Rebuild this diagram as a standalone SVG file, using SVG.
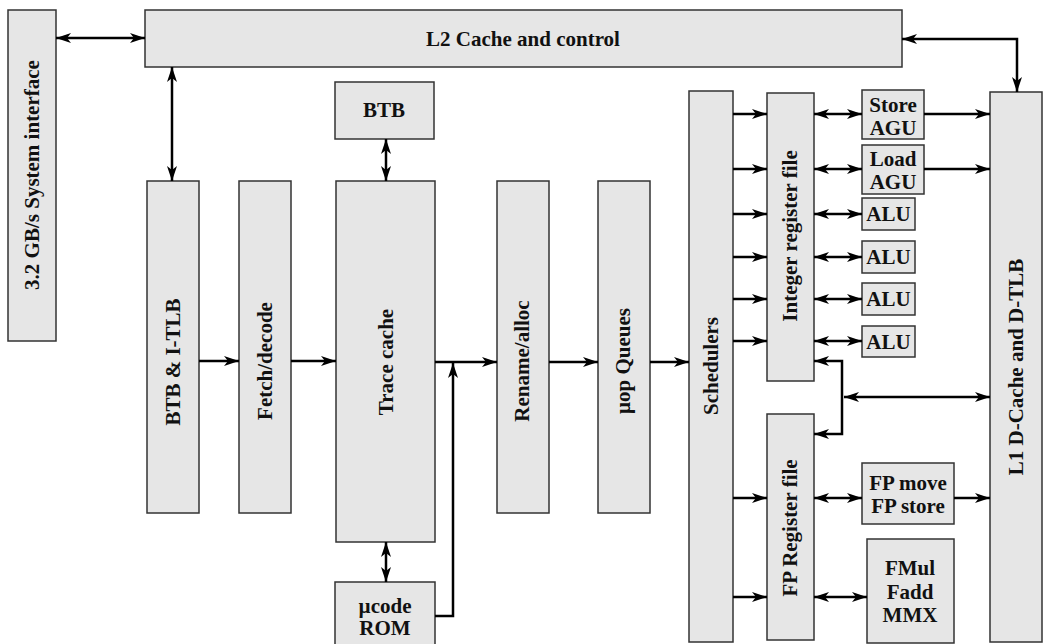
<svg xmlns="http://www.w3.org/2000/svg" width="1043" height="644" viewBox="0 0 1043 644">
<defs>
<marker id="ah" viewBox="0 0 15 10" refX="15" refY="5" markerWidth="15" markerHeight="10" markerUnits="userSpaceOnUse" orient="auto-start-reverse">
<path d="M0,0 L15,5 L0,10 L4,5 z" fill="#000"/>
</marker>
</defs>
<style>
.box{fill:#e6e6e6;stroke:#333;stroke-width:1.5}
.t{font-family:"Liberation Serif","Times New Roman",Times,"DejaVu Serif",serif;font-weight:bold;font-size:21px;fill:#111;text-anchor:middle}
.c{fill:none;stroke:#000;stroke-width:2.5}
.e{marker-end:url(#ah)}
.b{marker-start:url(#ah);marker-end:url(#ah)}
</style>
<rect width="1043" height="644" fill="#fff"/>
<g id="sysif"><rect class="box" x="8" y="10" width="48" height="331"/><text class="t" transform="translate(39,175) rotate(-90)">3.2 GB/s System interface</text></g>
<g id="l2"><rect class="box" x="145" y="10" width="757" height="57"/><text class="t" x="523" y="46">L2 Cache and control</text></g>
<g id="btb"><rect class="box" x="335" y="82" width="99" height="57"/><text class="t" x="384" y="117">BTB</text></g>
<g id="btbitlb"><rect class="box" x="147" y="181" width="52" height="332"/><text class="t" transform="translate(180,362) rotate(-90)">BTB &amp; I-TLB</text></g>
<g id="fetch"><rect class="box" x="239" y="181" width="52" height="332"/><text class="t" transform="translate(272,361) rotate(-90)">Fetch/decode</text></g>
<g id="trace"><rect class="box" x="336" y="181" width="99" height="361"/><text class="t" transform="translate(393,362) rotate(-90)">Trace cache</text></g>
<g id="ucode"><rect class="box" x="335" y="582" width="100" height="66"/><text class="t" x="385" y="613">µcode</text><text class="t" x="385" y="635">ROM</text></g>
<g id="rename"><rect class="box" x="497" y="181" width="52" height="332"/><text class="t" transform="translate(529,361) rotate(-90)">Rename/alloc</text></g>
<g id="uopq"><rect class="box" x="598" y="181" width="52" height="332"/><text class="t" transform="translate(630,361) rotate(-90)">µop Queues</text></g>
<g id="sched"><rect class="box" x="689" y="91" width="44" height="551"/><text class="t" transform="translate(718,366) rotate(-90)">Schedulers</text></g>
<g id="intreg"><rect class="box" x="767" y="93" width="47" height="288"/><text class="t" transform="translate(797,236) rotate(-90)">Integer register file</text></g>
<g id="fpreg"><rect class="box" x="767" y="414" width="47" height="226"/><text class="t" transform="translate(797,528) rotate(-90)">FP Register file</text></g>
<g id="storeagu"><rect class="box" x="862" y="90" width="62" height="49"/><text class="t" x="893" y="112">Store</text><text class="t" x="893" y="135">AGU</text></g>
<g id="loadagu"><rect class="box" x="862" y="145" width="62" height="49"/><text class="t" x="893" y="166">Load</text><text class="t" x="893" y="189">AGU</text></g>
<g id="alu1"><rect class="box" x="862" y="198" width="53" height="32"/><text class="t" x="888.5" y="221">ALU</text></g>
<g id="alu2"><rect class="box" x="862" y="241" width="53" height="32"/><text class="t" x="888.5" y="264">ALU</text></g>
<g id="alu3"><rect class="box" x="862" y="283" width="53" height="32"/><text class="t" x="888.5" y="306">ALU</text></g>
<g id="alu4"><rect class="box" x="862" y="326" width="53" height="31"/><text class="t" x="888.5" y="349">ALU</text></g>
<g id="fpmove"><rect class="box" x="862" y="463" width="92" height="61"/><text class="t" x="908" y="490">FP move</text><text class="t" x="908" y="513">FP store</text></g>
<g id="fmul"><rect class="box" x="867" y="539" width="87" height="104"/><text class="t" x="910" y="575">FMul</text><text class="t" x="910" y="599">Fadd</text><text class="t" x="910" y="622">MMX</text></g>
<g id="l1"><rect class="box" x="990" y="92" width="52" height="550"/><text class="t" transform="translate(1023,367) rotate(-90)">L1 D-Cache and D-TLB</text></g>
<g id="connectors">
<path class="c b" d="M56,38 H145"/>
<path class="c b" d="M172,67 V181"/>
<path class="c b" d="M386,139 V181"/>
<path class="c b" d="M386,542 V582"/>
<path class="c e" d="M199,361 H239"/>
<path class="c e" d="M291,361 H336"/>
<path class="c e" d="M435,362 H497"/>
<path class="c e" d="M435,616 H453 V363"/>
<path class="c e" d="M549,362 H598"/>
<path class="c e" d="M650,362 H689"/>
<path class="c e" d="M733,114 H767"/>
<path class="c e" d="M733,169 H767"/>
<path class="c e" d="M733,214 H767"/>
<path class="c e" d="M733,257 H767"/>
<path class="c e" d="M733,299 H767"/>
<path class="c e" d="M733,341 H767"/>
<path class="c b" d="M814,114 H862"/>
<path class="c b" d="M814,169 H862"/>
<path class="c b" d="M814,214 H862"/>
<path class="c b" d="M814,257 H862"/>
<path class="c b" d="M814,299 H862"/>
<path class="c b" d="M814,341 H862"/>
<path class="c e" d="M924,114 H990"/>
<path class="c e" d="M924,169 H990"/>
<path class="c b" d="M844,397 H990"/>
<path class="c b" d="M814,361 H842 V434 H814"/>
<path class="c e" d="M733,498 H767"/>
<path class="c e" d="M733,597 H767"/>
<path class="c b" d="M814,498 H862"/>
<path class="c e" d="M954,498 H990"/>
<path class="c b" d="M814,597 H867"/>
<path class="c b" d="M902,39 H1017 V92"/>
</g>
</svg>
